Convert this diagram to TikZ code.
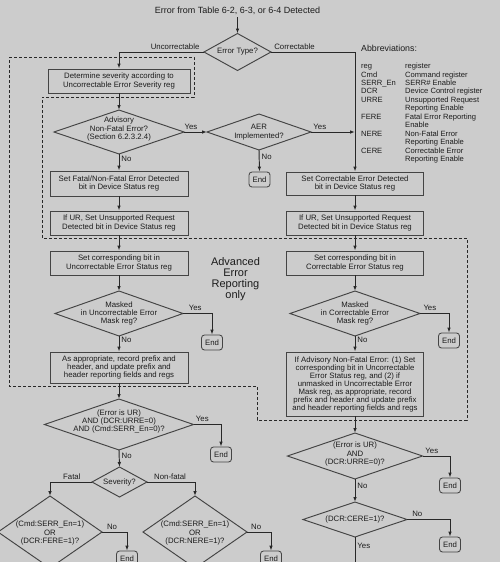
\documentclass[tikz,border=0pt]{standalone}
\usepackage{fontspec}
\setmainfont{Liberation Sans}
\usetikzlibrary{shapes.geometric,arrows.meta}
\definecolor{bg}{RGB}{204,204,204}
\definecolor{lc}{RGB}{68,68,68}
\definecolor{dc}{RGB}{40,40,40}
\definecolor{tc}{RGB}{28,28,28}
\newcommand{\fsz}{\fontsize{7.8}{8.3}\selectfont}
\tikzset{
  box/.style={draw=lc, line width=0.95pt, minimum height=24pt, minimum width=138pt, align=center, inner sep=1pt, font=\fsz, text=tc},
  dia/.style={draw=lc, line width=0.95pt, diamond, inner sep=0pt, outer sep=0pt},
  dtext/.style={align=center, font=\fsz, inner sep=0pt, text=tc},
  endbox/.style={draw=lc, line width=0.85pt, rounded corners=3pt, minimum width=21pt, minimum height=15pt, inner sep=0pt, font=\fsz, text=tc},
  arr/.style={draw=dc, line width=0.95pt, -{Latex[length=5pt,width=3.6pt]}},
  lab/.style={font=\fsz, inner sep=2pt, text=tc},
  dashline/.style={draw=dc, line width=0.8pt, dash pattern=on 3pt off 2pt},
}
\begin{document}
\begin{tikzpicture}[x=1pt,y=-1pt]
\fill[bg] (0,0) rectangle (500,562);
\useasboundingbox (0,0) rectangle (500,562);
\clip (0,0) rectangle (500,562);

% dashed AER region
\draw[dashline] (9,57) -- (194,57) -- (194,97) -- (42,97) -- (42,238) -- (467,238) -- (467,420) -- (257,420) -- (257,386) -- (9,386) -- cycle;

% title
\node[font=\fontsize{9}{10}\selectfont, inner sep=2pt, text=tc] (title) at (237.5,11) {Error from Table 6-2, 6-3, or 6-4 Detected};
\node[dia, minimum width=67pt, minimum height=37pt] (etype) at (237.5,52) {};
\node[dtext] (etypet) at (etype) {Error Type?};

% left column
\node[box, minimum width=142pt] (det) at (119,81) {Determine severity according to\\Uncorrectable Error Severity reg};
\node[dia, minimum width=130pt, minimum height=44pt] (adv) at (119,132) {};
\node[dtext] (advt) at (119,129) {Advisory\\Non-Fatal Error?\\(Section 6.2.3.2.4)};
\node[dia, minimum width=104pt, minimum height=36pt] (aer) at (259,132) {};
\node[dtext] (aert) at (aer) {AER\\Implemented?};
\node[endbox] (aerend) at (259.5,179.5) {End};
\node[box, minimum height=25pt] (fat) at (119,183.5) {Set Fatal/Non-Fatal Error Detected\\bit in Device Status reg};
\node[box] (ur1) at (119,223) {If UR, Set Unsupported Request\\Detected bit in Device Status reg};
\node[box] (ucs) at (119,263) {Set corresponding bit in\\Uncorrectable Error Status reg};
\node[dia, minimum width=128pt, minimum height=45pt] (um) at (119,313.5) {};
\node[dtext] (umt) at (um) {Masked\\in Uncorrectable Error\\Mask reg?};
\node[endbox] (umend) at (212,342.5) {End};
\node[box, minimum height=31pt] (app) at (119,367.5) {As appropriate, record prefix and\\header, and update prefix and\\header reporting fields and regs};
\node[dia, minimum width=149pt, minimum height=51pt] (urd) at (119,424.5) {};
\node[dtext] (urdt) at (119,421.5) {(Error is UR)\\AND (DCR:URRE=0)\\AND (Cmd:SERR\_En=0)?};
\node[endbox] (urdend) at (221,454.5) {End};
\node[dia, minimum width=55pt, minimum height=30pt] (sev) at (119.5,482) {};
\node[dtext] (sevt) at (sev) {Severity?};
\node[dia, minimum width=104pt, minimum height=72pt] (fdia) at (50,532) {};
\node[dtext] (fdiat) at (50,533) {(Cmd:SERR\_En=1)\\OR\\(DCR:FERE=1)?};
\node[endbox] (fend) at (127,558.5) {End};
\node[dia, minimum width=104pt, minimum height=72pt] (nfdia) at (195,532) {};
\node[dtext] (nfdiat) at (195,533) {(Cmd:SERR\_En=1)\\OR\\(DCR:NERE=1)?};
\node[endbox] (nfend) at (271,558.5) {End};

% right column
\node[box, minimum width=137pt, minimum height=23pt] (corr1) at (355,183.5) {Set Correctable Error Detected\\bit in Device Status reg};
\node[box, minimum width=137pt] (ur2) at (355,223) {If UR, Set Unsupported Request\\Detected bit in Device Status reg};
\node[box, minimum width=137pt] (ccs) at (355,263) {Set corresponding bit in\\Correctable Error Status reg};
\node[dia, minimum width=130pt, minimum height=45pt] (cm) at (355,313.5) {};
\node[dtext] (cmt) at (cm) {Masked\\in Correctable Error\\Mask reg?};
\node[endbox] (cmend) at (449,340.5) {End};
\node[box, minimum width=137pt, minimum height=64pt, font=\fontsize{7.8}{8}\selectfont] (adv2) at (355,384) {If Advisory Non-Fatal Error: (1) Set\\corresponding bit in Uncorrectable\\Error Status reg, and (2) if\\unmasked in Uncorrectable Error\\Mask reg, as appropriate, record\\prefix and header and update prefix\\and header reporting fields and regs};
\node[dia, minimum width=135pt, minimum height=46pt] (urd2) at (355,456) {};
\node[dtext] (urd2t) at (355,454) {(Error is UR)\\AND\\(DCR:URRE=0)?};
\node[endbox] (urd2end) at (450,485.5) {End};
\node[dia, minimum width=104pt, minimum height=35pt] (cere) at (355,519.5) {};
\node[dtext] (ceret) at (cere) {(DCR:CERE=1)?};
\node[endbox] (cereend) at (450,544.5) {End};
\coordinate (cereout) at (355,580);

% AER label
\node[align=center, font=\fontsize{11}{11}\selectfont, text=tc, inner sep=0pt] (aero) at (235.5,279) {Advanced\\Error\\Reporting\\only};

% abbreviations
\node[anchor=west, font=\fontsize{8.8}{10}\selectfont, inner sep=0pt, text=tc] (abbh) at (361,48) {Abbreviations:};
\node[anchor=north west, inner sep=0pt, font=\fontsize{7.6}{8.45}\selectfont, text=tc] (abbt) at (361,62.5) {%
\begin{tabular}{@{}p{44pt}@{}l@{}}
reg & register\\
Cmd & Command register\\
SERR\_En & SERR\# Enable\\
DCR & Device Control register\\
URRE & Unsupported Request\\
 & Reporting Enable\\
FERE & Fatal Error Reporting\\
 & Enable\\
NERE & Non-Fatal Error\\
 & Reporting Enable\\
CERE & Correctable Error\\
 & Reporting Enable
\end{tabular}};

% connectors
\draw[arr] (title) -- (etype.north);
\draw[arr] (etype.west) -| (det.north) node[lab, above, pos=0.17] {Uncorrectable};
\draw[arr] (etype.east) -| (corr1.north) node[lab, above, pos=0.14] {Correctable};
\draw[arr] (det) -- (adv.north);
\draw[arr] (adv.east) -- (aer.west) node[lab, above, pos=0.3] {Yes};
\draw[arr] (aer.east) -- (aer.east -| corr1.north) node[lab, above, pos=0.2] {Yes};
\draw[arr] (aer.south) -- (aerend.north) node[lab, right, pos=0.32] {No};
\draw[arr] (adv.south) -- (fat.north) node[lab, right, pos=0.3] {No};
\draw[arr] (fat) -- (ur1);
\draw[arr] (ur1) -- (ucs);
\draw[arr] (ucs) -- (um.north);
\draw[arr] (um.east) -| (umend.north) node[lab, above, pos=0.21] {Yes};
\draw[arr] (um.south) -- (app.north) node[lab, right, pos=0.25] {No};
\draw[arr] (app) -- (urd.north);
\draw[arr] (urd.east) -| (urdend.north) node[lab, above, pos=0.16] {Yes};
\draw[arr] (urd.south) -- (sev.north) node[lab, right, pos=0.35] {No};
\draw[arr] (sev.west) -| (fdia.north) node[lab, above, pos=0.24] {Fatal};
\draw[arr] (sev.east) -| (nfdia.north) node[lab, above, pos=0.24] {Non-fatal};
\draw[arr] (fdia.east) -| (fend.north) node[lab, above, pos=0.2] {No};
\draw[arr] (nfdia.east) -| (nfend.north) node[lab, above, pos=0.19] {No};

\draw[arr] (corr1) -- (ur2);
\draw[arr] (ur2) -- (ccs);
\draw[arr] (ccs) -- (cm.north);
\draw[arr] (cm.east) -| (cmend.north) node[lab, above, pos=0.17] {Yes};
\draw[arr] (cm.south) -- (adv2.north) node[lab, right, pos=0.25] {No};
\draw[arr] (adv2) -- (urd2.north);
\draw[arr] (urd2.east) -| (urd2end.north) node[lab, above, pos=0.17] {Yes};
\draw[arr] (urd2.south) -- (cere.north) node[lab, right, pos=0.3] {No};
\draw[arr] (cere.east) -| (cereend.north) node[lab, above, pos=0.12] {No};
\draw[arr] (cere.south) -- (cereout) node[lab, right, pos=0.21] {Yes};
\end{tikzpicture}
\end{document}
